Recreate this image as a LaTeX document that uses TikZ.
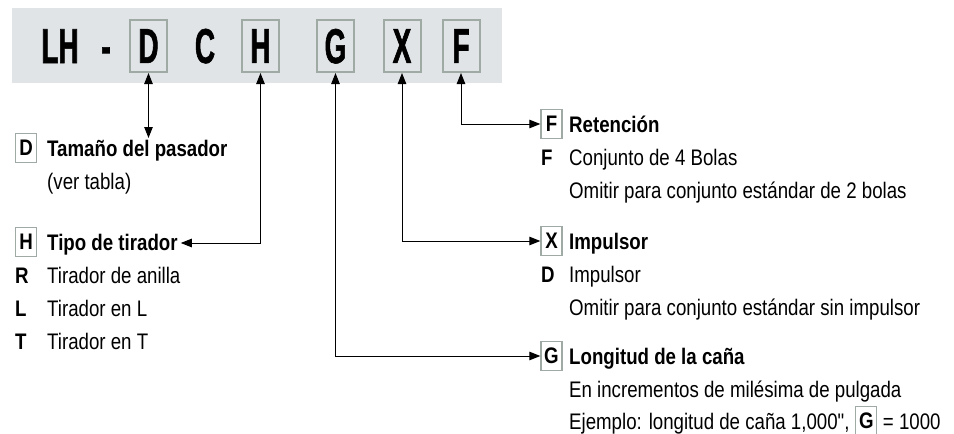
\documentclass[tikz,border=0pt]{standalone}
\usepackage{fontspec}
\usetikzlibrary{arrows.meta,calc}
\setmainfont{Liberation Sans}[FakeStretch=0.83]
\newfontfamily\plainfont{Liberation Sans}[FakeStretch=0.83]
\newfontfamily\bannerfont{Liberation Sans Bold}[FakeStretch=0.57, FakeBold=1.2]
\definecolor{bannergray}{RGB}{225,228,230}
\definecolor{boxgray}{RGB}{160,170,165}
\tikzset{
  bigbox/.style={draw=boxgray, line width=2pt, minimum width=37pt, minimum height=52pt, inner sep=0pt, text depth=0pt,
    font=\bannerfont\fontsize{49}{49}\selectfont},
  bigtxt/.style={anchor=base, inner sep=0pt, font=\bannerfont\fontsize{49}{49}\selectfont},
  tag/.style={draw=boxgray, line width=1.4pt, fill=white, minimum width=21pt, minimum height=29pt, inner sep=0pt, text depth=0pt,
    font=\bfseries\fontsize{22.5}{22.5}\selectfont},
  title/.style={anchor=base west, inner sep=0pt, font=\bfseries\fontsize{22.5}{22.5}\selectfont},
  body/.style={anchor=base west, inner sep=0pt, font=\fontsize{22.5}{22.5}\selectfont},
  code/.style={anchor=base west, inner sep=0pt, font=\bfseries\fontsize{22.5}{22.5}\selectfont},
  conn/.style={line width=1pt, {Triangle[length=11pt,width=8.5pt]}-{Triangle[length=11pt,width=8.5pt]}},
}
\begin{document}
\begin{tikzpicture}[x=1pt,y=-1pt]
\path[use as bounding box] (0,0) rectangle (954,434);
\fill[bannergray] (12,8) rectangle (502,83);
% banner
\node[bigtxt] (lh) at (60,63) {LH};
\node[bigtxt] (dash) at (106,63) {-};
\node[bigbox] (bD) at (148.5,46) {D};
\node[bigtxt] (c) at (205,63) {C};
\node[bigbox] (bH) at (260.5,46) {H};
\node[bigbox] (bG) at (335.5,46) {G};
\node[bigbox] (bX) at (402,46) {X};
\node[bigbox] (bF) at (461,46) {F};
% left column: D
\node[tag] (tD) at (26,148) {D};
\node[title] (nD) at (47,156) {Tamaño del pasador};
\node[body] (nD1) at (47,189) {(ver tabla)};
\coordinate (dEnd) at (148.5,138);
\draw[conn] (bD.south) -- (dEnd);
% left column: H
\node[tag] (tH) at (26,242) {H};
\node[title] (nH) at (47,250) {Tipo de tirador};
\coordinate (hEnd) at ($(nH.base east)+(3,-7)$);
\draw[conn] (bH.south) |- (hEnd);
\node[code] (cR) at (15,283) {R};
\node[body] (nR) at (47,283) {Tirador de anilla};
\node[code] (cL) at (15,316) {L};
\node[body] (nL) at (47,316) {Tirador en L};
\node[code] (cT) at (15,349) {T};
\node[body] (nT) at (47,349) {Tirador en T};
% right column: F
\node[tag] (tF) at (551.5,124) {F};
\node[title] (nF) at (569,132) {Retención};
\node[code] (cF) at (541,165) {F};
\node[body] (nF1) at (569,165) {Conjunto de 4 Bolas};
\node[body] (nF2) at (569,198) {Omitir para conjunto estándar de 2 bolas};
\draw[conn] (bF.south) |- (tF.west);
% right column: X
\node[tag] (tX) at (551.5,241) {X};
\node[title] (nX) at (569,249) {Impulsor};
\node[code] (cD) at (541,282) {D};
\node[body] (nX1) at (569,282) {Impulsor};
\node[body] (nX2) at (569,315) {Omitir para conjunto estándar sin impulsor};
\draw[conn] (bX.south) |- (tX.west);
% right column: G
\node[tag] (tG) at (551.5,356) {G};
\node[title] (nG) at (569,364) {Longitud de la caña};
\node[body] (nG1) at (569,397) {En incrementos de milésima de pulgada};
\node[body] (nG2) at (569,429) {Ejemplo: longitud de caña 1,000{\plainfont\char34},};
\node[tag] (tG2) at ($(nG2.base east)+(16.5,-8)$) {G};
\node[body] (nG3) at ($(nG2.base east)+(33,0)$) {= 1000};
\draw[conn] (bG.south) |- (tG.west);
\end{tikzpicture}
\end{document}
